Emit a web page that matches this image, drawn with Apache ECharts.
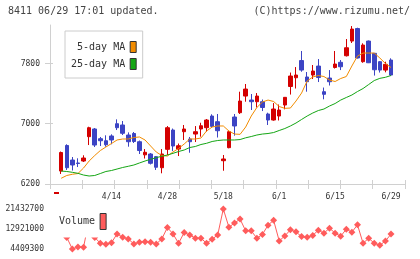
<!DOCTYPE html>
<html><head><meta charset="utf-8">
<script src="https://cdn.jsdelivr.net/npm/echarts@6/dist/echarts.min.js"></script>
<style>html,body{margin:0;padding:0;background:#fff}#c{width:420px;height:259px}</style>
</head><body><div id="c"></div>
<script>
const dates = ['4/1','4/2','4/3','4/6','4/7','4/8','4/9','4/10','4/13','4/14',
  '4/15','4/16','4/17','4/20','4/21','4/22','4/23','4/24','4/27','4/28',
  '4/30','5/1','5/7','5/8','5/11','5/12','5/13','5/14','5/15','5/18',
  '5/19','5/20','5/21','5/22','5/25','5/26','5/27','5/28','5/29','6/1',
  '6/2','6/3','6/4','6/5','6/8','6/9','6/10','6/11','6/12','6/15',
  '6/16','6/17','6/18','6/19','6/22','6/23','6/24','6/25','6/26','6/29'];
const opens = [6372,6711,6518,6479,6505,6828,6930,6801,6774,6837,
  7000,6983,6850,6870,6761,6587,6598,6563,6416,6660,
  6916,6664,6894,6797,6863,6930,6947,7102,7027,6509,
  6682,7089,7146,7367,7314,7292,7292,7129,7049,7102,
  7248,7494,7610,7838,7620,7646,7765,7425,7606,7746,
  7815,7902,8097,8263,7823,8097,7934,7823,7712,7845];
const closes = [6618,6416,6452,6472,6545,6947,6717,6774,6721,6784,
  6947,6873,6761,6764,6644,6621,6475,6422,6598,6947,
  6704,6708,6930,6761,6894,6973,7049,6965,6907,6532,
  6894,6970,7301,7460,7292,7367,7215,7049,7195,7182,
  7350,7633,7646,7712,7557,7699,7613,7390,7557,7792,
  7756,8008,8256,7872,8044,7809,7716,7712,7788,7646];
const lows = [6333,6386,6379,6425,6492,6717,6691,6704,6695,6727,
  6916,6850,6695,6744,6598,6538,6459,6386,6342,6585,
  6638,6571,6784,6615,6757,6828,6896,6943,6817,6376,
  6674,6841,7129,7292,7182,7215,7168,6983,7040,7043,
  7191,7387,7467,7690,7425,7593,7553,7324,7507,7732,
  7712,7892,8071,7865,7809,7805,7639,7679,7682,7633];
const highs = [6631,6727,6558,6541,6581,6960,6943,6824,6846,6859,
  7058,7036,6885,6890,6777,6664,6611,6571,6664,6969,
  6936,6737,6983,6824,6969,7013,7062,7125,7129,6585,
  6910,7129,7425,7527,7394,7407,7321,7146,7274,7255,
  7354,7679,7752,7965,7686,7779,7858,7480,7712,7965,
  7845,8124,8296,8274,8067,8104,7938,7832,7823,7868];
const ma5 = [6276,6313,6329,6339,6412,6505,6578,6644,6691,6737,
  6784,6797,6797,6817,6824,6784,6704,6625,6578,6571,
  6625,6671,6731,6797,6797,6810,6903,6956,6970,6970,
  6903,6863,6859,6956,7102,7215,7288,7314,7295,7228,
  7204,7208,7301,7407,7567,7620,7640,7626,7580,7560,
  7600,7626,7766,7898,7938,7938,7938,7872,7799,7746];
const ma25 = [6372,6366,6355,6342,6319,6306,6313,6339,6366,6379,
  6399,6419,6435,6452,6479,6505,6528,6549,6568,6585,
  6607,6631,6651,6684,6698,6724,6740,6764,6777,6784,
  6784,6784,6790,6813,6830,6850,6863,6870,6883,6910,
  6936,6970,7009,7056,7102,7142,7175,7195,7235,7268,
  7314,7348,7381,7427,7467,7520,7573,7602,7616,7640];
const volume = [12500000,9340000,4409300,5300000,5150000,17000000,9340000,6850000,6420000,7110000,
  10840000,9430000,8700000,6550000,7280000,7540000,7280000,6550000,8700000,13540000,
  10840000,6850000,11400000,10410000,9000000,9000000,6850000,8570000,10410000,21432700,
  13710000,15430000,17140000,12130000,12130000,9000000,10630000,14570000,16630000,7840000,
  9980000,12560000,11700000,9680000,9430000,10200000,12430000,11140000,13290000,11140000,
  9850000,12860000,11570000,14700000,6850000,9000000,6850000,6000000,7840000,10750000];
const priceTicks = [6200, 7000, 7800];
const volumeTicks = [4409300, 12921000, 21432700];
const xLabelDates = ['4/14','4/28','5/18','6/1','6/15','6/29'];
const seriesNames = ['5-day MA', '25-day MA', 'Volume'];
const headerLeft = '8411 06/29 17:01 updated.';
const headerRight = '(C)https://www.rizumu.net/';

const FONT = "'DejaVu Sans Mono', monospace";
const UP = '#d40000', DOWN = '#3c44c4';
const ORANGE = '#f28c00', GREEN = '#14a614', VOL = '#ff5c5c', AX = '#d0d0d0';
const xLabelIdx = xLabelDates.map(d => dates.indexOf(d));
const plain = v => String(v);

const chart = echarts.init(document.getElementById('c'), null, {renderer: 'canvas'});
chart.setOption({
  animation: false,
  backgroundColor: '#fff',
  graphic: [
    {type: 'text', left: 8, top: 6.5, style: {text: headerLeft, font: '10px ' + FONT, fill: '#444'}},
    {type: 'text', right: 10, top: 6.5, style: {text: headerRight, font: '10px ' + FONT, fill: '#444'}},
    {type: 'rect', shape: {x: 54, y: 192, width: 5, height: 2}, style: {fill: UP}}
  ],
  grid: [
    {left: 50, right: 15, top: 25, height: 159},
    {left: 50, right: 15, top: 209, height: 40}
  ],
  legend: [
    {
      data: [seriesNames[0], seriesNames[1]],
      formatter: n => n.padStart(9, ' '),
      orient: 'vertical', align: 'right', left: 65, top: 31,
      padding: [10, 6, 8, 6], itemGap: 5, itemWidth: 6, itemHeight: 11,
      icon: 'rect', backgroundColor: '#fff', borderColor: '#ccc', borderWidth: 1,
      itemStyle: {borderColor: '#333', borderWidth: 1},
      textStyle: {fontFamily: FONT, fontSize: 10, color: '#333'},
      selectedMode: false
    },
    {
      data: [seriesNames[2]],
      orient: 'vertical', align: 'right', left: 56, top: 206,
      padding: [7, 5, 7.5, 3], itemWidth: 6, itemHeight: 16,
      icon: 'rect', backgroundColor: '#fff', borderWidth: 0,
      itemStyle: {borderColor: '#333', borderWidth: 1},
      textStyle: {fontFamily: FONT, fontSize: 10, color: '#333'},
      selectedMode: false
    }
  ],
  xAxis: [
    {type: 'value', gridIndex: 0, position: 'bottom', min: -2, max: 61.5,
      axisLine: {show: false}, axisTick: {show: false}, splitLine: {show: false},
      axisLabel: {customValues: xLabelIdx, formatter: v => dates[v] || '', margin: 9,
        fontFamily: FONT, fontSize: 8, color: '#333'}},
    {type: 'value', gridIndex: 0, position: 'bottom', min: 0, max: 11, interval: 1,
      axisLine: {show: true, onZero: false, lineStyle: {color: AX}},
      axisTick: {show: true, length: 5, lineStyle: {color: AX}},
      axisLabel: {show: false}, splitLine: {show: false}},
    {type: 'value', gridIndex: 0, position: 'bottom', offset: 0, min: 0, max: 11, interval: 1,
      axisLine: {show: false, onZero: false},
      axisTick: {show: true, inside: true, length: 4, lineStyle: {color: AX}},
      axisLabel: {show: false}, splitLine: {show: false}},
    {type: 'value', gridIndex: 1, min: -2, max: 61.5, show: false}
  ],
  yAxis: [
    {type: 'value', gridIndex: 0, position: 'left', min: 6200, max: 8310,
      axisLine: {show: true, onZero: false, lineStyle: {color: AX}},
      axisTick: {show: true, length: 5, customValues: priceTicks, lineStyle: {color: AX}},
      axisLabel: {customValues: priceTicks, formatter: plain, margin: 10, fontFamily: FONT, fontSize: 8, color: '#333'},
      splitLine: {show: false}},
    {type: 'value', gridIndex: 0, position: 'left', offset: 0, min: 6200, max: 8310,
      axisLine: {show: false, onZero: false},
      axisTick: {show: true, inside: true, length: 3, customValues: priceTicks, lineStyle: {color: AX}},
      axisLabel: {show: false}, splitLine: {show: false}},
    {type: 'value', gridIndex: 1, min: volumeTicks[0], max: volumeTicks[2],
      axisLine: {show: false}, axisTick: {show: false}, splitLine: {show: false},
      axisLabel: {customValues: volumeTicks, formatter: plain, margin: 6, fontFamily: FONT, fontSize: 8, color: '#333'}}
  ],
  series: [
    {type: 'candlestick', name: 'price', xAxisIndex: 0, yAxisIndex: 0,
      data: dates.map((d, i) => [i, opens[i], closes[i], lows[i], highs[i]]),
      encode: {x: 0, y: [1, 2, 3, 4]},
      barWidth: 4,
      itemStyle: {color: UP, color0: DOWN, borderColor: UP, borderColor0: DOWN, borderWidth: 1}},
    {type: 'line', name: seriesNames[0], xAxisIndex: 0, yAxisIndex: 0,
      data: ma5.map((v, i) => [i, v]), symbol: 'none',
      lineStyle: {color: ORANGE, width: 1}, itemStyle: {color: ORANGE}},
    {type: 'line', name: seriesNames[1], xAxisIndex: 0, yAxisIndex: 0,
      data: ma25.map((v, i) => [i, v]), symbol: 'none',
      lineStyle: {color: GREEN, width: 1}, itemStyle: {color: GREEN}},
    {type: 'line', name: seriesNames[2], xAxisIndex: 3, yAxisIndex: 2,
      data: volume.map((v, i) => [i, v]), symbol: 'diamond', symbolSize: 7,
      lineStyle: {color: VOL, width: 1}, itemStyle: {color: VOL}}
  ]
});
</script>
</body></html>
